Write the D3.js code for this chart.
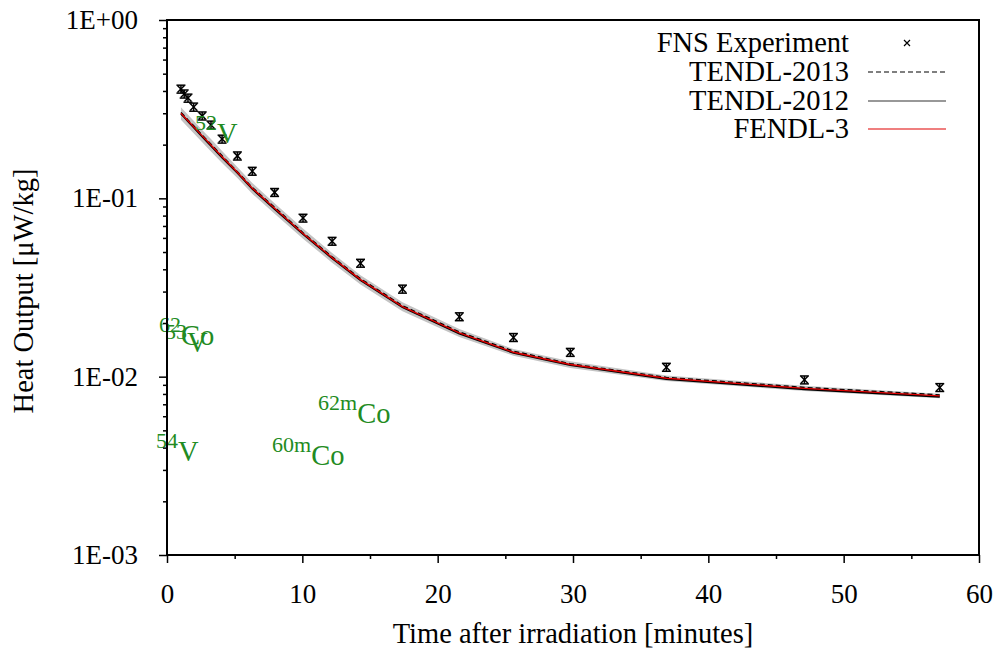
<!DOCTYPE html>
<html>
<head>
<meta charset="utf-8">
<script src="https://cdn.jsdelivr.net/npm/d3@7"></script>
<style>
  body { margin: 0; background: #fff; }
  svg text { font-family: "Liberation Serif", "Times New Roman", serif; }
</style>
</head>
<body>
<div id="chart"></div>
<script>
// time after irradiation [minutes]
var times = [1.03, 1.27, 1.55, 1.97, 2.6, 3.25, 4.07, 5.2, 6.3, 7.95, 10.05, 12.2, 14.3, 17.4, 21.6, 25.6, 29.8, 36.9, 47.1, 57.1];

// FNS measured heat output [uW/kg] and its uncertainty
var fnsExp = [0.410, 0.385, 0.365, 0.325, 0.290, 0.258, 0.215, 0.173, 0.142, 0.108, 0.0775, 0.0575, 0.0433, 0.0310, 0.0217, 0.0166, 0.0137, 0.0113, 0.0096, 0.0087];
var fnsErr = [0.021, 0.020, 0.019, 0.017, 0.015, 0.013, 0.011, 0.009, 0.0072, 0.0055, 0.0039, 0.0029, 0.0022, 0.0016, 0.0011, 0.00085, 0.0007, 0.00058, 0.00049, 0.00044];

// calculations
var tendl2013 = [0.303, 0.290, 0.275, 0.255, 0.226, 0.201, 0.173, 0.141, 0.115, 0.089, 0.0641, 0.0470, 0.0354, 0.0250, 0.0178, 0.0139, 0.0118, 0.0099, 0.0087, 0.0079];
var tendl2012 = [0.298, 0.285, 0.270, 0.250, 0.222, 0.197, 0.169, 0.139, 0.113, 0.087, 0.0630, 0.0461, 0.0347, 0.0245, 0.0174, 0.0136, 0.0116, 0.0097, 0.0085, 0.0077];
var fendl3 = [0.300, 0.287, 0.272, 0.252, 0.224, 0.199, 0.171, 0.140, 0.114, 0.088, 0.0635, 0.0465, 0.0350, 0.0247, 0.0176, 0.0137, 0.0117, 0.0098, 0.0086, 0.0078];

// uncertainty band of the calculation
var bandLow = [0.276, 0.264, 0.250, 0.232, 0.206, 0.183, 0.158, 0.130, 0.106, 0.0820, 0.0593, 0.0436, 0.0329, 0.0233, 0.0167, 0.0131, 0.0112, 0.00945, 0.00832, 0.00757];
var bandHigh = [0.324, 0.310, 0.294, 0.272, 0.242, 0.215, 0.184, 0.150, 0.122, 0.0940, 0.0677, 0.0494, 0.0371, 0.0261, 0.0185, 0.0143, 0.0122, 0.01015, 0.00888, 0.00803];

var seriesNames = ["FNS Experiment", "TENDL-2013", "TENDL-2012", "FENDL-3"];

var yMajor = [1, 0.1, 0.01, 0.001];
var yMajorLabels = ["1E+00", "1E-01", "1E-02", "1E-03"];
var xMajor = [0, 10, 20, 30, 40, 50, 60];
var xMinor = [5, 15, 25, 35, 45, 55];

// nuclide labels: [superscript, symbol, time, value at baseline]
var nuclides = [
  ["52", "V", 2.07, 0.204],
  ["62", "Co", -0.59, 0.0150],
  ["53", "V", -0.15, 0.0137],
  ["62m", "Co", 11.16, 0.0055],
  ["54", "V", -0.81, 0.00336],
  ["60m", "Co", 7.76, 0.00319]
];

var width = 1002, height = 653;
var margin = {left: 167, right: 23, top: 20, bottom: 98};
var fs = 27, fsBig = 28.5;

var svg = d3.select("#chart").append("svg")
    .attr("width", width).attr("height", height);

var xScale = d3.scaleLinear().domain([0, 60]).range([margin.left, width - margin.right]);
var yScale = d3.scaleLog().domain([0.001, 1]).range([height - margin.bottom, margin.top]);

var yMinor = [];
[0.001, 0.01, 0.1].forEach(function (d) {
  for (var k = 2; k <= 9; k++) yMinor.push(d * k);
});

// band
var idx = d3.range(times.length);
svg.append("path")
    .datum(idx)
    .attr("fill", "#c4c4c4")
    .attr("d", d3.area()
      .x(function (i) { return xScale(times[i]); })
      .y0(function (i) { return yScale(bandLow[i]); })
      .y1(function (i) { return yScale(bandHigh[i]); }));

function lineOf(vals) {
  return d3.line()
    .x(function (i) { return xScale(times[i]); })
    .y(function (i) { return yScale(vals[i]); })(idx);
}

svg.append("path").attr("d", lineOf(tendl2012))
    .attr("fill", "none").attr("stroke", "#000").attr("stroke-width", 1.8);
svg.append("path").attr("d", lineOf(tendl2013))
    .attr("fill", "none").attr("stroke", "#000").attr("stroke-width", 1.5)
    .attr("stroke-dasharray", "5,3");
svg.append("path").attr("d", lineOf(fendl3))
    .attr("fill", "none").attr("stroke", "#e00000").attr("stroke-width", 1.4);

// experiment points with error bars
var pts = svg.append("g").attr("stroke", "#000").attr("stroke-width", 1.5)
    .selectAll("g").data(idx).enter().append("g");
pts.append("line")
    .attr("x1", function (i) { return xScale(times[i]); })
    .attr("x2", function (i) { return xScale(times[i]); })
    .attr("y1", function (i) { return yScale(fnsExp[i] - fnsErr[i]); })
    .attr("y2", function (i) { return yScale(fnsExp[i] + fnsErr[i]); });
[-1, 1].forEach(function (s) {
  pts.append("line")
    .attr("x1", function (i) { return xScale(times[i]) - 4.5; })
    .attr("x2", function (i) { return xScale(times[i]) + 4.5; })
    .attr("y1", function (i) { return yScale(fnsExp[i] + s * fnsErr[i]); })
    .attr("y2", function (i) { return yScale(fnsExp[i] + s * fnsErr[i]); });
  pts.append("line")
    .attr("x1", function (i) { return xScale(times[i]) - 3.5; })
    .attr("x2", function (i) { return xScale(times[i]) + 3.5; })
    .attr("y1", function (i) { return yScale(fnsExp[i]) - 3.5 * s; })
    .attr("y2", function (i) { return yScale(fnsExp[i]) + 3.5 * s; });
});

// nuclide labels
var lab = svg.append("g").attr("fill", "#228b22");
nuclides.forEach(function (n) {
  var t = lab.append("text")
      .attr("x", xScale(n[2]))
      .attr("y", yScale(n[3]))
      .attr("font-size", fsBig);
  t.append("tspan").attr("font-size", 22).attr("dy", -13).text(n[0]);
  t.append("tspan").attr("dy", 13).text(n[1]);
});

// axes
var xAxis = d3.axisBottom(xScale).tickValues(xMajor).tickSize(8).tickPadding(21)
    .tickFormat(d3.format("d"));
var xAxisMinor = d3.axisBottom(xScale).tickValues(xMinor).tickSize(4).tickFormat("");
var yAxis = d3.axisLeft(yScale).tickValues(yMajor).tickSize(8).tickPadding(21)
    .tickFormat(function (d, i) { return yMajorLabels[i]; });
var yAxisMinor = d3.axisLeft(yScale).tickValues(yMinor).tickSize(4).tickFormat("");

function styleAxis(g) {
  g.select(".domain").remove();
  g.selectAll("line").attr("stroke", "#000").attr("stroke-width", 1.5);
  g.selectAll("text").attr("font-size", fs).attr("fill", "#000");
}

var by = height - margin.bottom;
svg.append("g").attr("transform", "translate(0," + by + ")").call(xAxis).call(styleAxis);
svg.append("g").attr("transform", "translate(0," + by + ")").call(xAxisMinor).call(styleAxis);
svg.append("g").attr("transform", "translate(" + margin.left + ",0)").call(yAxis).call(styleAxis);
svg.append("g").attr("transform", "translate(" + margin.left + ",0)").call(yAxisMinor).call(styleAxis);

// frame
svg.append("rect")
    .attr("x", margin.left).attr("y", margin.top)
    .attr("width", width - margin.right - margin.left)
    .attr("height", height - margin.bottom - margin.top)
    .attr("fill", "none").attr("stroke", "#000").attr("stroke-width", 2);

// axis titles
svg.append("text")
    .attr("x", (margin.left + width - margin.right) / 2).attr("y", 643)
    .attr("text-anchor", "middle").attr("font-size", fsBig)
    .text("Time after irradiation [minutes]");
svg.append("text")
    .attr("transform", "translate(33,291) rotate(-90)")
    .attr("text-anchor", "middle").attr("font-size", fsBig)
    .text("Heat Output [\u03bcW/kg]");

// legend
var legend = svg.append("g");
var legY = [43, 72, 101, 129];
seriesNames.forEach(function (name, i) {
  legend.append("text")
    .attr("x", 849).attr("y", legY[i]).attr("dy", "0.33em")
    .attr("text-anchor", "end").attr("font-size", fsBig).text(name);
});
legend.append("path")
    .attr("d", "M904,40L910,46M904,46L910,40")
    .attr("stroke", "#000").attr("stroke-width", 1.2);
legend.append("line").attr("x1", 868).attr("x2", 946).attr("y1", legY[1]).attr("y2", legY[1])
    .attr("stroke", "#000").attr("stroke-width", 1.2).attr("stroke-dasharray", "5,3");
legend.append("line").attr("x1", 868).attr("x2", 946).attr("y1", legY[2]).attr("y2", legY[2])
    .attr("stroke", "#333").attr("stroke-width", 1.2);
legend.append("line").attr("x1", 868).attr("x2", 946).attr("y1", legY[3]).attr("y2", legY[3])
    .attr("stroke", "#e00000").attr("stroke-width", 1.2);
</script>
</body>
</html>
